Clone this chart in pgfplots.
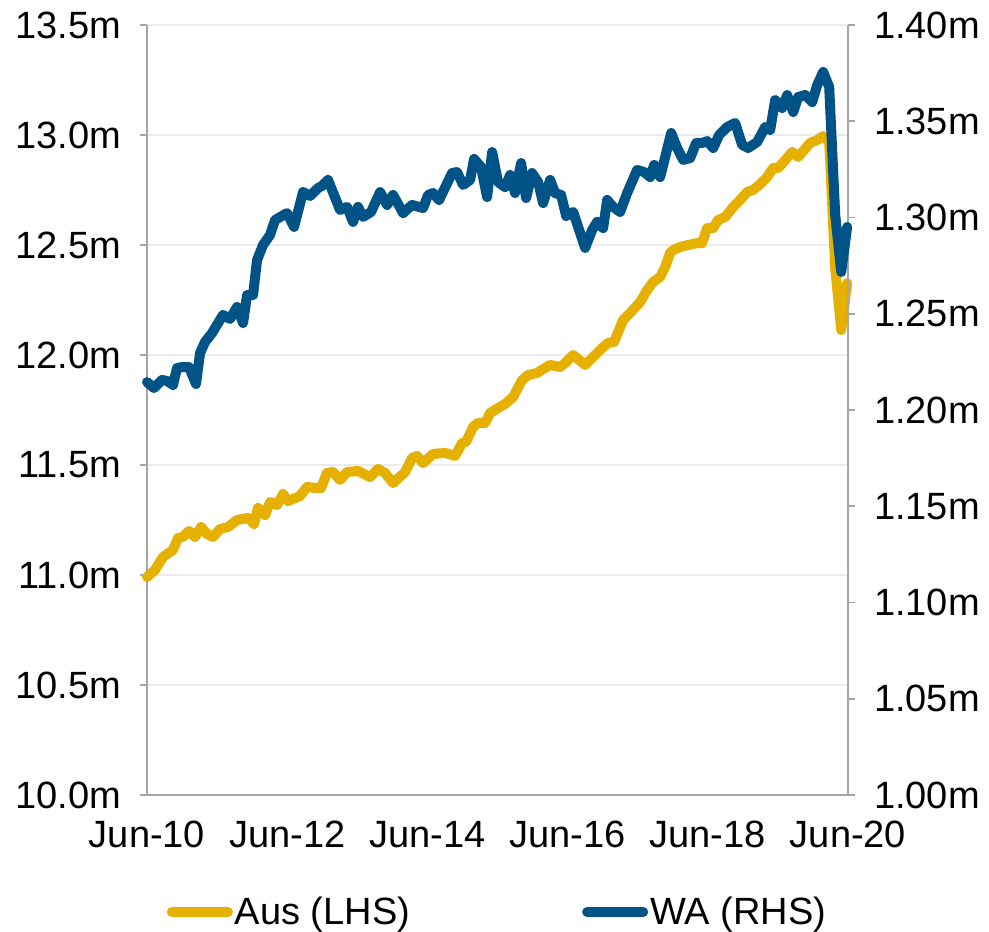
\documentclass[border=0pt]{standalone}
\usepackage{pgfplots}
\pgfplotsset{compat=1.18}
\usepackage{fontspec}
\setmainfont{Liberation Sans}
\definecolor{ausY}{RGB}{229,176,0}
\definecolor{waB}{RGB}{0,83,135}
\definecolor{axgray}{RGB}{166,166,166}
\definecolor{gridgray}{RGB}{235,235,235}
\begin{document}
\begin{tikzpicture}
\useasboundingbox (-73.5pt,-68pt) rectangle (421pt,397.5pt);
\pgfplotsset{
  common/.style={
    width=350.5pt, height=385pt, scale only axis,
    xmin=0, xmax=120, clip=false,
    tick label style={font=\fontsize{19}{22}\selectfont},
    /pgf/number format/assume math mode=true,
    tick align=outside, major tick length=3.5pt,
    every tick/.style={axgray, line width=0.8pt},
    axis line style={axgray, line width=1pt},
  }
}
\begin{axis}[common,
  ymin=10, ymax=13.5,
  axis y line*=left, axis x line*=bottom,
  ytick={10,10.5,11,11.5,12,12.5,13,13.5},
  yticklabel={\pgfmathprintnumber[fixed,fixed zerofill,precision=1]{\tick}m},
  yticklabel style={xshift=-6pt},
  xtick={0,24,48,72,96,120},
  xticklabels={Jun-10,Jun-12,Jun-14,Jun-16,Jun-18,Jun-20},
  xtick style={draw=none},
  xticklabel style={yshift=-6pt},
  ymajorgrids, grid style={gridgray, line width=0.6pt},
]
\addplot[ausY, line width=5pt, line join=round, line cap=round] coordinates {
(0,10.991) (1.37,11.023) (2.74,11.082) (4.45,11.114) (5.31,11.168) (6.16,11.173)
(7.19,11.200) (8.22,11.173) (9.25,11.218) (10.27,11.186) (11.30,11.173) (12.50,11.209)
(13.87,11.218) (15.41,11.250) (17.29,11.259) (18.32,11.232) (19.01,11.305) (20.21,11.273)
(21.06,11.332) (22.26,11.318) (23.29,11.368) (24.14,11.336) (26.20,11.359) (27.40,11.400)
(29.11,11.395) (29.79,11.395) (30.82,11.464) (31.85,11.468) (33.05,11.432) (34.25,11.468)
(36.13,11.473) (38.18,11.445) (39.55,11.482) (40.75,11.464) (42.12,11.418) (44.18,11.468)
(45.38,11.532) (46.23,11.541) (47.26,11.509) (48.97,11.550) (51.03,11.555) (52.74,11.541)
(53.94,11.600) (54.62,11.605) (55.82,11.673) (56.68,11.691) (57.88,11.691) (58.73,11.736)
(60.10,11.759) (61.30,11.777) (62.67,11.809) (64.21,11.886) (65.24,11.909) (66.78,11.918)
(67.81,11.936) (69.01,11.955) (70.72,11.945) (71.75,11.968) (72.95,12.000) (75.00,11.955)
(76.37,11.991) (77.91,12.032) (78.94,12.055) (79.97,12.059) (80.65,12.105) (81.51,12.159)
(82.71,12.191) (84.42,12.241) (85.62,12.295) (86.64,12.332) (87.84,12.355) (88.70,12.400)
(89.55,12.464) (90.07,12.477) (91.27,12.491) (92.64,12.500) (94.18,12.509) (95.03,12.509)
(95.89,12.577) (96.92,12.577) (97.77,12.614) (98.97,12.627) (100.34,12.673) (101.54,12.705)
(102.74,12.741) (103.77,12.750) (104.97,12.777) (106.16,12.809) (107.19,12.850) (108.05,12.850)
(109.25,12.886) (110.45,12.923) (111.47,12.900) (112.50,12.932) (113.53,12.964) (114.73,12.977)
(115.75,12.995) (116.78,12.968) (117.81,12.395) (118.84,12.114) (119.86,12.327)
};
\end{axis}
\begin{axis}[common,
  ymin=1.0, ymax=1.4,
  axis y line*=right, axis x line=none,
  ytick={1.00,1.05,1.10,1.15,1.20,1.25,1.30,1.35,1.40},
  yticklabel={\pgfmathprintnumber[fixed,fixed zerofill,precision=2]{\tick}m},
  yticklabel style={xshift=6pt},
  legend columns=2,
  legend style={at={(0.5,-0.152)}, anchor=center, draw=none, fill=none,
    font=\fontsize{19}{22}\selectfont,
    /tikz/every even column/.append style={column sep=85pt},
    nodes={inner sep=1pt}},
  legend image code/.code={\draw[#1, line width=5pt, line cap=round] (0pt,0pt) -- (28pt,0pt);},
]
\addlegendimage{ausY}
\addlegendentry{Aus (LHS)}
\addplot[waB, line width=5pt, line join=round, line cap=round] coordinates {
(0,1.2145) (1.2,1.2114) (2.57,1.2156) (3.42,1.2151) (4.45,1.2130) (5.14,1.2218)
(5.99,1.2223) (7.19,1.2223) (8.39,1.2135) (9.08,1.2296) (9.93,1.2353) (11.13,1.2400)
(13.01,1.2494) (14.21,1.2473) (15.41,1.2535) (16.44,1.2452) (17.12,1.2597) (18.15,1.2597)
(18.84,1.2779) (19.86,1.2857) (21.06,1.2909) (21.92,1.2987) (23.97,1.3023) (25.17,1.2951)
(26.71,1.3132) (27.91,1.3112) (29.28,1.3153) (29.97,1.3164) (30.99,1.3195) (33.05,1.3039)
(34.25,1.3055) (35.27,1.2977) (36.13,1.3055) (36.99,1.3003) (38.36,1.3029) (39.90,1.3132)
(41.10,1.3065) (42.12,1.3117) (43.84,1.3023) (45.38,1.3065) (47.26,1.3049) (48.12,1.3117)
(48.97,1.3127) (50.00,1.3091) (52.23,1.3231) (53.08,1.3236) (54.11,1.3169) (55.31,1.3195)
(55.99,1.3304) (57.19,1.3262) (58.22,1.3106) (59.08,1.3340) (60.10,1.3184) (61.30,1.3158)
(62.16,1.3221) (63.01,1.3127) (64.04,1.3283) (64.90,1.3101) (65.92,1.3231) (66.95,1.3184)
(67.81,1.3075) (69.01,1.3195) (69.86,1.3127) (70.89,1.3117) (71.75,1.3008) (72.95,1.3029)
(73.80,1.2951) (75.00,1.2842) (76.20,1.2935) (77.05,1.2977) (78.08,1.2945) (78.77,1.3091)
(79.79,1.3055) (80.99,1.3029) (82.19,1.3127) (83.90,1.3247) (85.10,1.3236) (86.13,1.3210)
(86.82,1.3273) (87.84,1.3210) (88.70,1.3314) (89.73,1.3439) (90.75,1.3361) (91.78,1.3299)
(92.98,1.3309) (94.01,1.3387) (95.03,1.3387) (95.89,1.3397) (96.92,1.3361) (97.95,1.3429)
(99.32,1.3470) (100.68,1.3491) (101.88,1.3377) (102.91,1.3361) (104.45,1.3392) (105.82,1.3470)
(106.68,1.3455) (107.53,1.3610) (108.73,1.3569) (109.59,1.3636) (110.62,1.3548) (111.47,1.3626)
(112.67,1.3636) (113.87,1.3600) (114.73,1.3688) (115.75,1.3756) (116.78,1.3678) (117.81,1.3013)
(118.84,1.2717) (119.86,1.2951)
};
\addlegendentry{WA (RHS)}
\end{axis}
\end{tikzpicture}
\end{document}
